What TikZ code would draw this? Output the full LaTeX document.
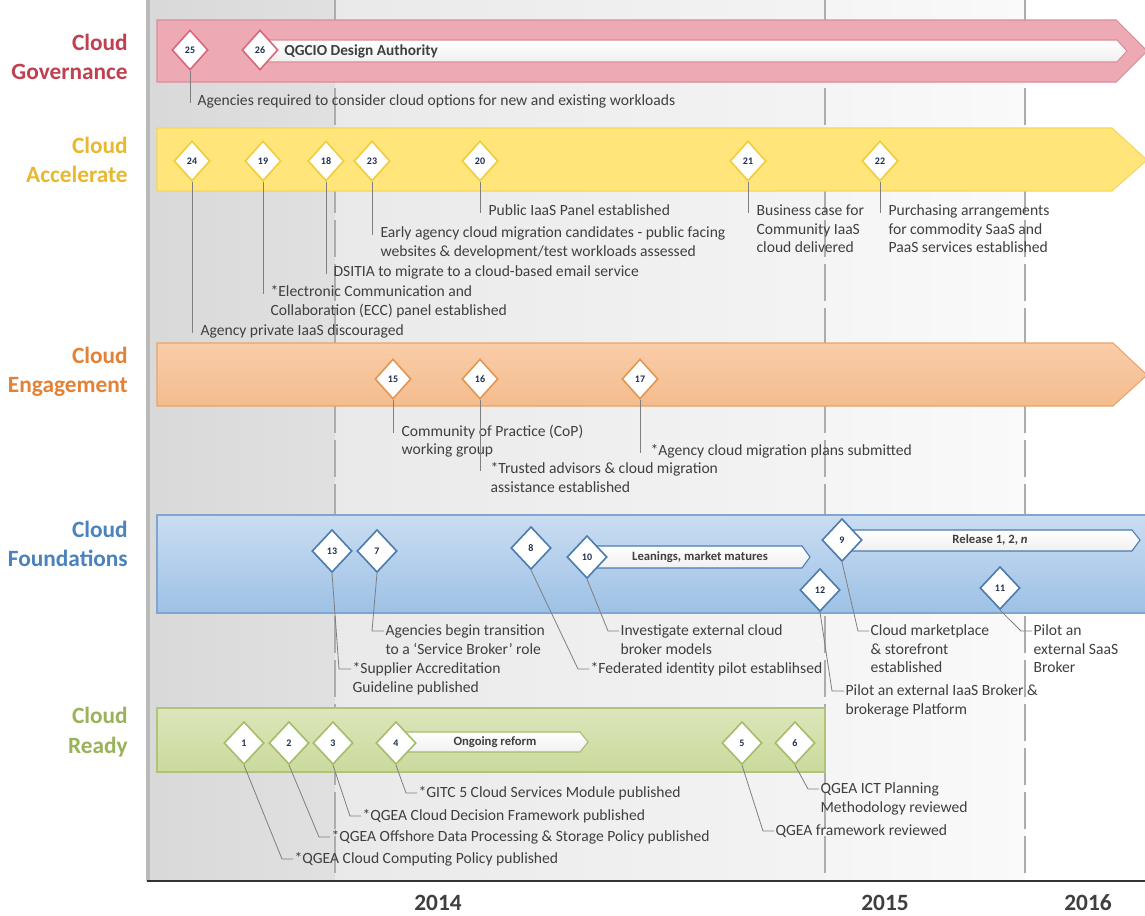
\documentclass[tikz,border=0pt]{standalone}
\usepackage{fontspec}
\setmainfont{Carlito}
\usepackage{xcolor}
\usetikzlibrary{calc,positioning,shapes.geometric}

\definecolor{govtext}{HTML}{C0404F}
\definecolor{govfill}{HTML}{EEAAB4}
\definecolor{govline}{HTML}{DC8C98}
\definecolor{govdia}{HTML}{D9667A}
\definecolor{acctext}{HTML}{E8B830}
\definecolor{accfill}{HTML}{FFE57A}
\definecolor{accline}{HTML}{F6D65A}
\definecolor{accdia}{HTML}{F2CC3C}
\definecolor{engtext}{HTML}{E38135}
\definecolor{engtop}{HTML}{F9CDA8}
\definecolor{engbot}{HTML}{F4BC8E}
\definecolor{engline}{HTML}{E9A36A}
\definecolor{engdia}{HTML}{E39650}
\definecolor{foutext}{HTML}{4A83BD}
\definecolor{foutop}{HTML}{CADDF1}
\definecolor{foubot}{HTML}{9DC1E6}
\definecolor{fouline}{HTML}{7EA6D0}
\definecolor{foudia}{HTML}{4C7BAE}
\definecolor{rdytext}{HTML}{9AB25A}
\definecolor{rdytop}{HTML}{DCE6BA}
\definecolor{rdybot}{HTML}{CADA9C}
\definecolor{rdyline}{HTML}{AFC47A}
\definecolor{rdydia}{HTML}{A5BC6A}
\definecolor{notetext}{HTML}{3F3F3F}
\definecolor{numtext}{HTML}{1F2F4F}
\definecolor{leadgray}{HTML}{7F7F7F}

\begin{document}
\begin{tikzpicture}[
  x=0.75pt, y=-0.75pt,
  lane/.style={anchor=east, align=right, inner sep=0pt, font=\fontsize{17.5}{22}\selectfont\bfseries},
  ms/.style={diamond, draw, line width=1.2pt, fill=white, inner sep=0pt, minimum width=27pt, minimum height=30pt, text=numtext, font=\fontsize{7.5}{8}\selectfont\bfseries},
  msbig/.style={ms, minimum width=30pt, minimum height=32pt},
  note/.style={anchor=north west, align=left, inner sep=1pt, text=notetext, font=\fontsize{11.7}{14}\selectfont},
  tag/.style={inner sep=0pt, text=notetext, font=\fontsize{9.5}{10}\selectfont\bfseries},
  bar/.style={line width=0.8pt, top color=white, bottom color=gray!12},
  lead/.style={draw=leadgray, line width=0.6pt},
  year/.style={inner sep=0pt, text=notetext, font=\fontsize{17.5}{20}\selectfont\bfseries},
  period/.style={draw=gray!65, line width=1.2pt, dash pattern=on 28pt off 5pt}
]
\useasboundingbox (0,0) rectangle (1145,915);
\fill[white] (0,0) rectangle (1145,915);

% time periods
\shade[left color=gray!30, right color=gray!24] (148,0) rectangle (335,880);
\shade[left color=gray!17, right color=gray!9] (335,0) rectangle (825,880);
\shade[left color=gray!8, right color=gray!4] (825,0) rectangle (1025,880);
\draw[period] (335,0) -- (335,880);
\draw[period] (825,0) -- (825,880);
\draw[period] (1025,0) -- (1025,880);
\draw[gray!55, line width=2.5pt] (148,0) -- (148,881);
\draw[gray!40!black, line width=2pt] (147,881) -- (1145,881);

\node[year] (y14) at (438,903) {2014};
\node[year] (y15) at (885,903) {2015};
\node[year] (y16) at (1088,903) {2016};

% lanes
\node[lane, text=govtext] (lgov) at (128,57) {Cloud\\Governance};
\node[lane, text=acctext] (lacc) at (128,160) {Cloud\\Accelerate};
\node[lane, text=engtext] (leng) at (128,372) {Cloud\\Engagement};
\node[lane, text=foutext] (lfou) at (128,544) {Cloud\\Foundations};
\node[lane, text=rdytext] (lrdy) at (128,732) {Cloud\\Ready};

\draw[govline, fill=govfill, line width=0.8pt] (157,20) -- (1116,20) -- (1147,51) -- (1116,82) -- (157,82) -- cycle;
\draw[accline, fill=accfill, line width=0.8pt] (157,128) -- (1112,128) -- (1147,160) -- (1112,191) -- (157,191) -- cycle;
\draw[engline, top color=engtop, bottom color=engbot, line width=0.8pt] (157,343) -- (1113,343) -- (1147,375) -- (1113,406) -- (157,406) -- cycle;
\draw[fouline, top color=foutop, bottom color=foubot, line width=0.8pt] (157,515) rectangle (1150,613);
\draw[rdyline, top color=rdytop, bottom color=rdybot, line width=0.8pt] (157,708) rectangle (825,772);

% ongoing bars
\draw[bar, draw=govline] (262,40) -- (1117,40) -- (1127,51) -- (1117,62) -- (262,62) -- cycle;
\node[tag, anchor=west, font=\fontsize{11.5}{12}\selectfont\bfseries] (qgcio) at (284,51) {QGCIO Design Authority};
\draw[bar, draw=foudia] (590,546) -- (802,546) -- (810,557) -- (802,568) -- (590,568) -- cycle;
\node[tag] (lean) at (700,557) {Leanings, market matures};
\draw[bar, draw=foudia] (850,530) -- (1132,530) -- (1140,540) -- (1132,551) -- (850,551) -- cycle;
\node[tag] (rel) at (990,540) {Release 1, 2, \textit{n}};
\draw[bar, draw=rdydia] (400,732) -- (580,732) -- (588,742) -- (580,752) -- (400,752) -- cycle;
\node[tag] (ongo) at (495,742) {Ongoing reform};

% milestones
\node[ms, draw=govdia] (d25) at (190,50) {25};
\node[ms, draw=govdia] (d26) at (260,50) {26};

\node[ms, draw=accdia] (d24) at (192,161) {24};
\node[ms, draw=accdia] (d19) at (263,161) {19};
\node[ms, draw=accdia] (d18) at (326,161) {18};
\node[ms, draw=accdia] (d23) at (372,161) {23};
\node[ms, draw=accdia] (d20) at (480,161) {20};
\node[ms, draw=accdia] (d21) at (748,161) {21};
\node[ms, draw=accdia] (d22) at (880,161) {22};

\node[ms, draw=engdia] (d15) at (393,379) {15};
\node[ms, draw=engdia] (d16) at (480,379) {16};
\node[ms, draw=engdia] (d17) at (640,379) {17};

\node[msbig, draw=foudia] (d13) at (332,551) {13};
\node[msbig, draw=foudia] (d7) at (377,551) {7};
\node[msbig, draw=foudia] (d8) at (531,548) {8};
\node[msbig, draw=foudia] (d10) at (587,557) {10};
\node[msbig, draw=foudia] (d9) at (842,540) {9};
\node[msbig, draw=foudia] (d12) at (820,590) {12};
\node[msbig, draw=foudia] (d11) at (1000,588) {11};

\node[msbig, draw=rdydia] (d1) at (244,743) {1};
\node[msbig, draw=rdydia] (d2) at (289,743) {2};
\node[msbig, draw=rdydia] (d3) at (333,743) {3};
\node[msbig, draw=rdydia] (d4) at (396,743) {4};
\node[msbig, draw=rdydia] (d5) at (742,743) {5};
\node[msbig, draw=rdydia] (d6) at (795,743) {6};

% notes
\node[note] (t25) at (196,93) {Agencies required to consider cloud options for new and existing workloads};

\node[note] (t20) at (487,203) {Public IaaS Panel established};
\node[note] (t23) at (379,225) {Early agency cloud migration candidates - public facing\\websites \& development/test workloads assessed};
\node[note] (t18) at (332,264) {DSITIA to migrate to a cloud-based email service};
\node[note] (t19) at (269,284) {*Electronic Communication and\\Collaboration (ECC) panel established};
\node[note] (t24) at (199,323) {Agency private IaaS discouraged};
\node[note] (t21) at (755,203) {Business case for\\Community IaaS\\cloud delivered};
\node[note] (t22) at (887,203) {Purchasing arrangements\\for commodity SaaS and\\PaaS services established};

\node[note] (t15) at (400,423) {Community of Practice (CoP)\\working group};
\node[note] (t16) at (489,461) {*Trusted advisors \& cloud migration\\assistance established};
\node[note] (t17) at (649,443) {*Agency cloud migration plans submitted};

\node[note] (t7) at (384,623) {Agencies begin transition\\to a `Service Broker' role};
\node[note] (t13) at (351,661) {*Supplier Accreditation\\Guideline published};
\node[note] (t10) at (619,623) {Investigate external cloud\\broker models};
\node[note] (t8) at (589,661) {*Federated identity pilot establihsed};
\node[note] (t9) at (869,623) {Cloud marketplace\\\& storefront\\established};
\node[note] (t12) at (844,683) {Pilot an external IaaS Broker \&\\brokerage Platform};
\node[note] (t11) at (1032,623) {Pilot an\\external SaaS\\Broker};

\node[note] (t4) at (417,785) {*GITC 5 Cloud Services Module published};
\node[note] (t3) at (361,808) {*QGEA Cloud Decision Framework published};
\node[note] (t2) at (330,829) {*QGEA Offshore Data Processing \& Storage Policy published};
\node[note] (t1) at (293,851) {*QGEA Cloud Computing Policy published};
\node[note] (t6) at (819,781) {QGEA ICT Planning\\Methodology reviewed};
\node[note] (t5) at (774,823) {QGEA framework reviewed};

% leaders
\foreach \m in {25,20,23,18,19,24,21,22,15,16,17}
  \draw[lead] (d\m.south) -- ($(d\m.south |- t\m.north)+(0,10)$);
\foreach \m in {13,7,12}
  \draw[lead] (d\m.south) -- ($(t\m.north west)+(-12,8)$) -- ($(t\m.north west)+(0,8)$);
\foreach \m in {10,8,9,11,1,2,3,4,5,6}
  \draw[lead] (d\m.south) -- ($(t\m.north west)+(-11,8)$) -- ($(t\m.north west)+(0,8)$);
\end{tikzpicture}
\end{document}
